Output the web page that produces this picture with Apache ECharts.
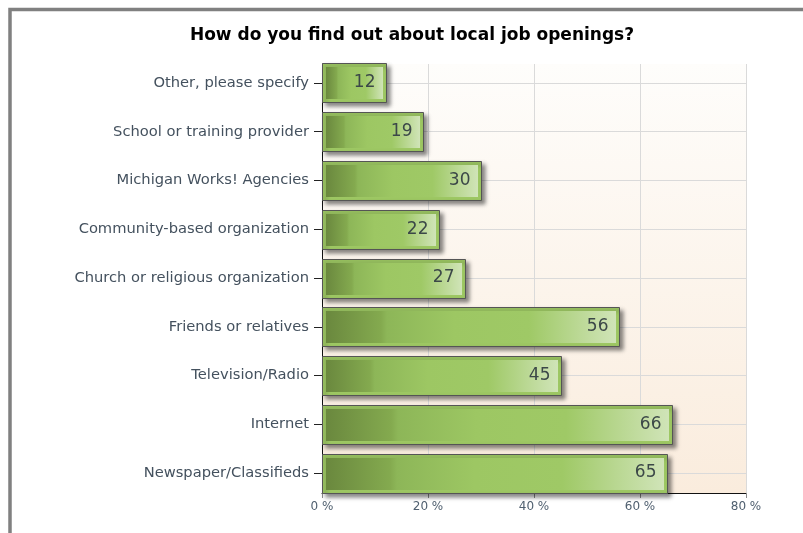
<!DOCTYPE html>
<html>
<head>
<meta charset="utf-8">
<script src="https://cdn.jsdelivr.net/npm/echarts@6/dist/echarts.min.js"></script>
<style>
  html, body { margin: 0; padding: 0; overflow: hidden; background: #ffffff; }
  #chart { width: 824px; height: 533px; }
</style>
</head>
<body>
<div id="chart"></div>
<script>
// Survey answers, listed top to bottom
const categories = [
  'Other, please specify',
  'School or training provider',
  'Michigan Works! Agencies',
  'Community-based organization',
  'Church or religious organization',
  'Friends or relatives',
  'Television/Radio',
  'Internet',
  'Newspaper/Classifieds'
];
// Share of respondents (%)
const percentages = [12, 19, 30, 22, 27, 56, 45, 66, 65];
// Percent axis ticks
const percentTicks = [0, 20, 40, 60, 80];

const FONT = '"DejaVu Sans", "Liberation Sans", sans-serif';

const barGradient = {
  type: 'linear', x: 0, y: 0, x2: 1, y2: 0,
  colorStops: [
    { offset: 0.00, color: '#6a883e' },
    { offset: 0.19, color: '#84aa4f' },
    { offset: 0.21, color: '#8db658' },
    { offset: 0.44, color: '#9dc763' },
    { offset: 0.70, color: '#9fc966' },
    { offset: 1.00, color: '#d0e4b8' }
  ]
};

// Framed bar: dark outline with drop shadow, light-green rim, shaded core, value at the end
function renderBar(params, api) {
  const value = api.value(0);
  const idx = api.value(1);
  const base = api.coord([0, idx]);
  const tip = api.coord([value, idx]);
  const h = Math.round(api.size([0, 1])[1] * 0.8);
  const x = Math.round(base[0]) + 0.5;
  const w = Math.round(tip[0] - base[0]);
  const y = Math.round(base[1] - h / 2) + 0.5;
  return {
    type: 'group',
    children: [
      {
        type: 'rect',
        shape: { x: x, y: y, width: w, height: h },
        style: {
          fill: '#9dc763', stroke: '#555555', lineWidth: 1,
          shadowBlur: 4, shadowOffsetX: 3, shadowOffsetY: 3,
          shadowColor: 'rgba(0,0,0,0.45)'
        }
      },
      {
        type: 'rect',
        shape: { x: x + 3.5, y: y + 3.5, width: w - 7, height: h - 7 },
        style: { fill: barGradient }
      },
      {
        type: 'text',
        x: x + w - 11,
        y: base[1],
        style: {
          text: String(value),
          align: 'right', verticalAlign: 'middle',
          fill: '#3c4848', font: '17px ' + FONT
        }
      }
    ]
  };
}

const chart = echarts.init(document.getElementById('chart'), null, { renderer: 'canvas' });

chart.setOption({
  animation: false,
  backgroundColor: '#ffffff',
  textStyle: { fontFamily: FONT },
  title: {
    text: 'How do you find out about local job openings?',
    left: 'center',
    top: 27,
    padding: 0,
    textStyle: { fontFamily: FONT, fontSize: 17, fontWeight: 'bold', color: '#000000' }
  },
  graphic: [{
    type: 'rect',
    silent: true,
    shape: { x: 10, y: 9.5, width: 804, height: 600 },
    style: { fill: 'transparent', stroke: '#808080', lineWidth: 3.5 }
  }],
  grid: [
    {
      // plot panel: shaded background, percent gridlines, axis lines
      left: 322, right: 78, top: 64, bottom: 40,
      show: true, borderWidth: 0,
      backgroundColor: {
        type: 'linear', x: 0, y: 0, x2: 0, y2: 1,
        colorStops: [
          { offset: 0, color: '#fefdfb' },
          { offset: 1, color: '#faecdd' }
        ]
      }
    },
    {
      // category bands for the bars
      left: 322, right: 78, top: 58.6, bottom: 35.6
    }
  ],
  xAxis: [
    {
      gridIndex: 0,
      type: 'value',
      min: percentTicks[0],
      max: percentTicks[percentTicks.length - 1],
      interval: percentTicks[1] - percentTicks[0],
      axisLine: { show: true, onZero: false, lineStyle: { color: '#111111', width: 1 } },
      axisTick: { show: true, length: 5, lineStyle: { color: '#8a8a8a' } },
      splitLine: { show: true, lineStyle: { color: '#dadada', width: 1 } },
      axisLabel: {
        margin: 8, fontSize: 12, color: '#4f5f6f', fontFamily: FONT,
        formatter: function (v) { return v + ' %'; }
      }
    },
    {
      gridIndex: 1,
      type: 'value',
      min: percentTicks[0],
      max: percentTicks[percentTicks.length - 1],
      show: false
    }
  ],
  yAxis: [
    {
      gridIndex: 0,
      type: 'value',
      min: 0, max: 1,
      axisLine: { show: true, onZero: false, lineStyle: { color: '#111111', width: 1 } },
      axisTick: { show: false },
      axisLabel: { show: false },
      splitLine: { show: false }
    },
    {
      gridIndex: 1,
      type: 'category',
      inverse: true,
      data: categories,
      axisLine: { show: false },
      axisTick: { show: true, alignWithLabel: true, length: 8, lineStyle: { color: '#222222' } },
      splitLine: { show: false },
      axisLabel: { margin: 13, fontSize: 14.7, color: '#44515e', fontFamily: FONT }
    }
  ],
  series: [
    {
      // horizontal guides through each category
      type: 'scatter',
      xAxisIndex: 1, yAxisIndex: 1,
      data: percentages.map(function (v, i) { return [v, i]; }),
      symbolSize: 0,
      silent: true,
      z: 1,
      markLine: {
        silent: true,
        symbol: ['none', 'none'],
        label: { show: false },
        lineStyle: { color: '#dadada', type: 'solid', width: 1 },
        data: categories.map(function (c, i) { return { yAxis: i }; })
      }
    },
    {
      type: 'custom',
      xAxisIndex: 1, yAxisIndex: 1,
      renderItem: renderBar,
      encode: { x: 0, y: 1 },
      data: percentages.map(function (v, i) { return [v, i]; }),
      z: 5
    }
  ]
});
</script>
</body>
</html>
